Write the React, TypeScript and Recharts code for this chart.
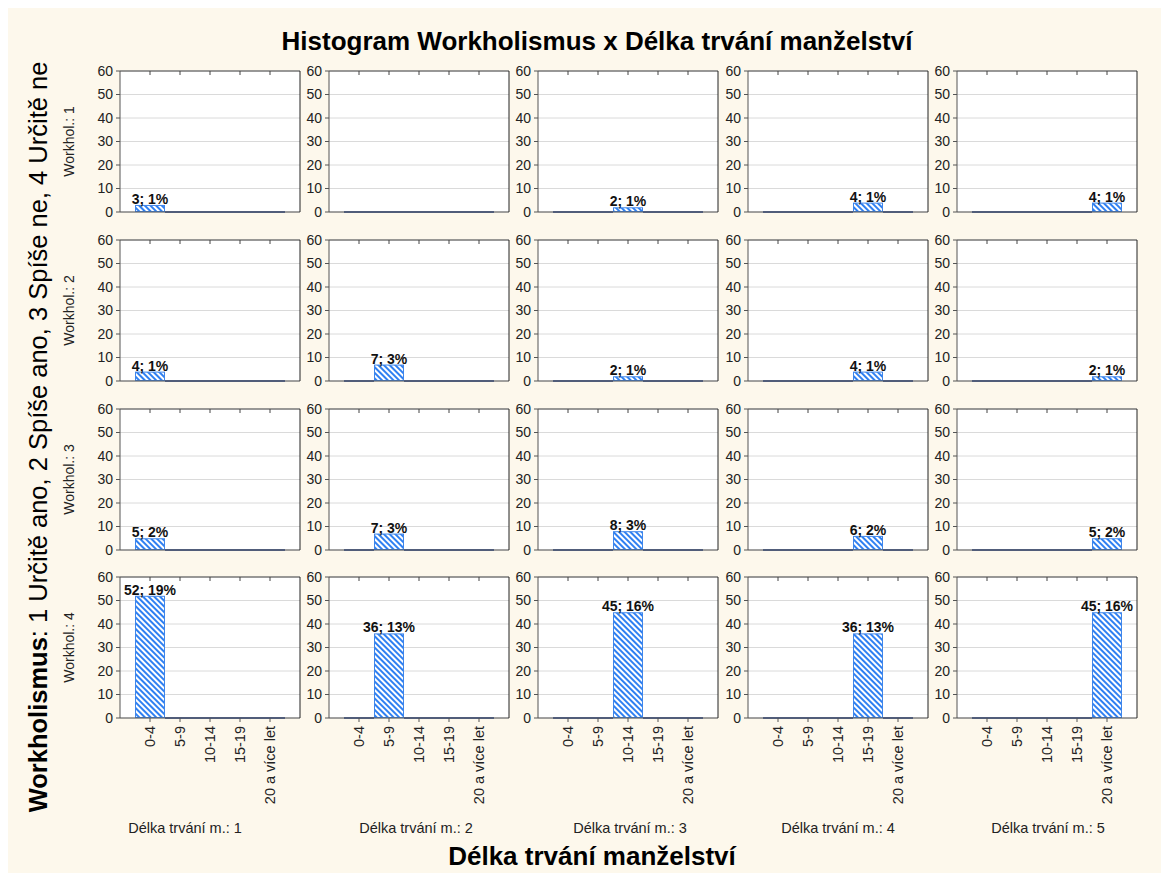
import React from 'react';
import { BarChart, Bar, XAxis, YAxis, CartesianGrid, LabelList } from 'recharts';

const FONT = '"Liberation Sans", Arial, sans-serif';

const categories = ['0-4', '5-9', '10-14', '15-19', '20 a více let'];
const rowLabels = ['Workhol.: 1', 'Workhol.: 2', 'Workhol.: 3', 'Workhol.: 4'];
const colLabels = [
  'Délka trvání m.: 1',
  'Délka trvání m.: 2',
  'Délka trvání m.: 3',
  'Délka trvání m.: 4',
  'Délka trvání m.: 5',
];
// cases in each panel, only the column's own category has any
const counts = [
  [3, 0, 2, 4, 4],
  [4, 7, 2, 4, 2],
  [5, 7, 8, 6, 5],
  [52, 36, 45, 36, 45],
];
const percents = [
  [1, 0, 1, 1, 1],
  [1, 3, 1, 1, 1],
  [2, 3, 3, 2, 2],
  [19, 13, 16, 13, 16],
];
const yTicks = [0, 10, 20, 30, 40, 50, 60];

// layout (container coords, container sits at 8,8)
const plotLefts = [112, 321, 530, 740, 949];
const plotTops = [63, 232, 401, 569];
const colLabelX = [177, 408, 622, 830, 1040];
const PLOT_W = 180;
const PLOT_H = 141;
const Y_W = 40;
const M_TOP = 8;
const M_RIGHT = 8;

const HatchBar = (props: any) => {
  const { x, y, width, height } = props;
  if (!height || height < 0.5) {
    return <line x1={x} x2={x + width} y1={y} y2={y} stroke="#27458c" strokeWidth={1.6} />;
  }
  return (
    <rect
      x={x + 0.5}
      y={y + 0.5}
      width={width - 1}
      height={height - 1}
      fill="url(#hatch)"
      stroke="#3f86ea"
      strokeWidth={1}
    />
  );
};

const BarLabel = (props: any) => {
  const { x, y, width, value } = props;
  if (!value) return null;
  return (
    <text x={x + width / 2} y={y - 1} textAnchor="middle" fontSize={14} fontWeight="bold" fill="#111" fontFamily={FONT}>
      {value}
    </text>
  );
};

const CatTick = (props: any) => {
  const { x, y, payload } = props;
  return (
    <text
      x={x}
      y={y}
      transform={`rotate(-90, ${x}, ${y})`}
      textAnchor="end"
      dominantBaseline="central"
      fontSize={14.5}
      fill="#222"
      fontFamily={FONT}
    >
      {payload.value}
    </text>
  );
};

const Panel = ({ r, c }: { r: number; c: number }) => {
  const data = categories.map((cat, i) => {
    const n = i === c ? counts[r][c] : 0;
    return { cat, count: n, label: n ? `${n}; ${percents[r][c]}%` : '' };
  });
  const last = r === counts.length - 1;
  const xh = last ? 95 : 10;
  return (
    <div style={{ position: 'absolute', left: plotLefts[c] - Y_W, top: plotTops[r] - M_TOP }}>
      <BarChart
        width={Y_W + PLOT_W + M_RIGHT}
        height={M_TOP + PLOT_H + xh}
        data={data}
        margin={{ top: M_TOP, right: M_RIGHT, bottom: 0, left: 0 }}
        barCategoryGap={0}
        barGap={0}
      >
        <CartesianGrid vertical={false} stroke="#dadada" fill="#ffffff" />
        <XAxis
          dataKey="cat"
          interval={0}
          padding={{ left: 15, right: 15 }}
          height={xh}
          tickSize={4}
          tickMargin={4}
          stroke="#555"
          tick={last ? <CatTick /> : false}
        />
        <XAxis
          xAxisId="top"
          dataKey="cat"
          orientation="top"
          mirror
          interval={0}
          padding={{ left: 15, right: 15 }}
          tickSize={4}
          stroke="#444"
          tickFormatter={() => ''}
        />
        <YAxis
          domain={[0, 60]}
          ticks={yTicks}
          interval={0}
          width={Y_W}
          tickSize={4}
          tickMargin={3}
          stroke="#555"
          tick={{ fill: '#222', fontSize: 14, fontFamily: FONT }}
        />
        <YAxis
          yAxisId="right"
          orientation="right"
          mirror
          domain={[0, 60]}
          ticks={yTicks}
          interval={0}
          tickSize={4}
          stroke="#222"
          tickFormatter={() => ''}
        />
        <Bar dataKey="count" isAnimationActive={false} shape={HatchBar}>
          <LabelList dataKey="label" content={BarLabel} />
        </Bar>
      </BarChart>
    </div>
  );
};

export default function App() {
  return (
    <div style={{ position: 'relative', width: 1161, height: 865, background: '#fdf8ec', fontFamily: FONT }}>
      <svg width={1161} height={865} style={{ position: 'absolute', left: 0, top: 0 }}>
        <defs>
          <pattern id="hatch" patternUnits="userSpaceOnUse" width={4} height={4} patternTransform="rotate(-45)">
            <rect width={4} height={4} fill="#ffffff" />
            <rect width={2} height={4} fill="#2f80f2" />
          </pattern>
        </defs>
        <text x={589} y={42} textAnchor="middle" fontSize={26} fontWeight="bold" fill="#000" fontFamily={FONT}>
          Histogram Workholismus x Délka trvání manželství
        </text>
        <text x={584} y={857} textAnchor="middle" fontSize={26} fontWeight="bold" fill="#000" fontFamily={FONT}>
          Délka trvání manželství
        </text>
        <text
          x={30}
          y={429}
          transform="rotate(-90, 30, 429)"
          textAnchor="middle"
          dominantBaseline="central"
          fontSize={25.5}
          fill="#000"
          fontFamily={FONT}
        >
          <tspan fontWeight="bold">Workholismus</tspan>: 1 Určitě ano, 2 Spíše ano, 3 Spíše ne, 4 Určitě ne
        </text>
        {rowLabels.map((t, r) => (
          <text
            key={t}
            x={61}
            y={plotTops[r] + PLOT_H / 2}
            transform={`rotate(-90, 61, ${plotTops[r] + PLOT_H / 2})`}
            textAnchor="middle"
            dominantBaseline="central"
            fontSize={14}
            fill="#222"
            fontFamily={FONT}
          >
            {t}
          </text>
        ))}
        {colLabels.map((t, c) => (
          <text key={t} x={colLabelX[c]} y={825} textAnchor="middle" fontSize={14.5} fill="#222" fontFamily={FONT}>
            {t}
          </text>
        ))}
      </svg>
      {counts.map((row, r) => row.map((_, c) => <Panel key={`${r}-${c}`} r={r} c={c} />))}
    </div>
  );
}
